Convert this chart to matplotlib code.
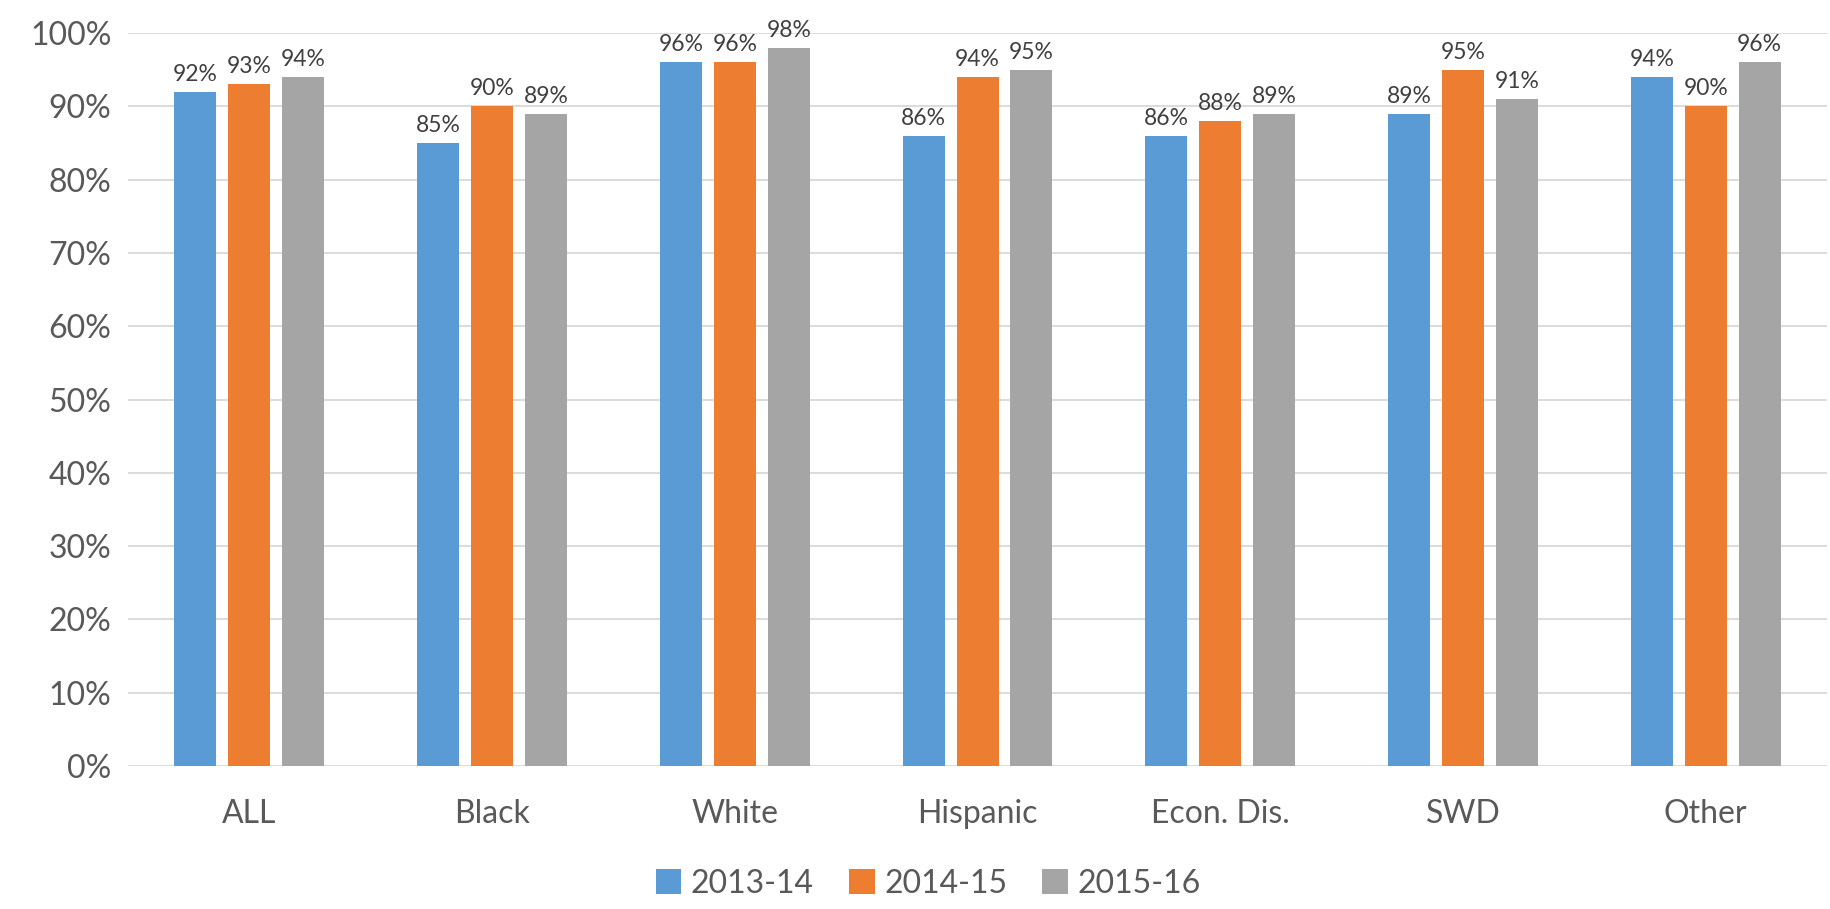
import matplotlib.pyplot as plt
import numpy as np

plt.rcParams['font.family'] = ['Lato', 'DejaVu Sans']

categories = ['ALL', 'Black', 'White', 'Hispanic', 'Econ. Dis.', 'SWD', 'Other']
years = ['2013-14', '2014-15', '2015-16']
vals_2013 = [92, 85, 96, 86, 86, 89, 94]
vals_2014 = [93, 90, 96, 94, 88, 95, 90]
vals_2015 = [94, 89, 98, 95, 89, 91, 96]

colors = ['#5B9BD5', '#ED7D31', '#A5A5A5']
text_color = '#595959'

fig = plt.figure(figsize=(18.31, 9.09), dpi=100)
ax = fig.add_axes([0.0699, 0.1573, 0.928, 0.8064])

x = np.arange(len(categories))
width = 0.173
step = 0.222

for i, (vals, label) in enumerate(zip([vals_2013, vals_2014, vals_2015], years)):
    pos = x + (i - 1) * step
    bars = ax.bar(pos, vals, width, color=colors[i], label=label, zorder=3)
    for b, v in zip(bars, vals):
        ax.annotate(f'{v}%', (b.get_x() + b.get_width() / 2, v),
                    xytext=(0, 5), textcoords='offset points',
                    ha='center', va='bottom', fontsize=16.5, color='#404040')

ax.set_xlim(-0.5, len(categories) - 0.5)
ax.set_ylim(0, 100)
ax.set_yticks(range(0, 101, 10))
ax.set_yticklabels([f'{t}%' for t in range(0, 101, 10)])
ax.set_xticks(x)
ax.set_xticklabels(categories)
ax.tick_params(axis='both', length=0, labelsize=23, colors=text_color)
ax.tick_params(axis='x', pad=24)
ax.tick_params(axis='y', pad=12)
ax.grid(axis='y', color='#D9D9D9', linewidth=1.3, zorder=0)
for s in ax.spines.values():
    s.set_visible(False)

leg = fig.legend(loc='center', bbox_to_anchor=(0.507, 0.028), ncol=3,
                 frameon=False, fontsize=23, handlelength=0.8, handleheight=0.8,
                 handletextpad=0.3, columnspacing=1.1)
for t in leg.get_texts():
    t.set_color(text_color)

fig.savefig('out.png', dpi=100)
